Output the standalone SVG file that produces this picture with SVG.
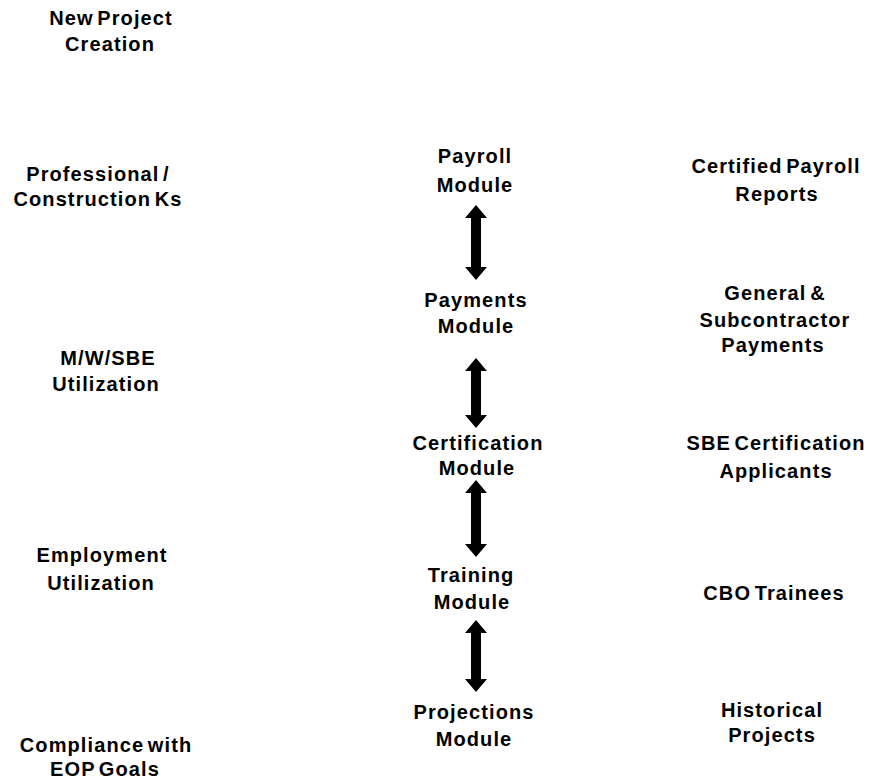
<svg xmlns="http://www.w3.org/2000/svg" width="870" height="782" viewBox="0 0 870 782">
<style>
text{font-family:"Liberation Sans",Arial,sans-serif;font-weight:bold;font-size:20px;fill:#000;text-anchor:middle;letter-spacing:1.1px;word-spacing:-3px}
.arr{fill:#000}
</style>
<rect width="870" height="782" fill="#fff"/>
<g id="left">
<g id="new-project"><text x="111" y="25">New Project</text><text x="110" y="51">Creation</text></g>
<g id="professional"><text x="98" y="181">Professional /</text><text x="98" y="206">Construction Ks</text></g>
<g id="mwsbe"><text x="108" y="365">M/W/SBE</text><text x="106" y="391">Utilization</text></g>
<g id="employment"><text x="102" y="562">Employment</text><text x="101" y="590">Utilization</text></g>
<g id="compliance"><text x="106" y="752">Compliance with</text><text x="105" y="776">EOP Goals</text></g>
</g>
<g id="middle">
<g id="payroll-module"><text x="475" y="163">Payroll</text><text x="475" y="192">Module</text></g>
<g id="payments-module"><text x="476" y="307">Payments</text><text x="476" y="333">Module</text></g>
<g id="certification-module"><text x="478" y="450">Certification</text><text x="477" y="475">Module</text></g>
<g id="training-module"><text x="471" y="582">Training</text><text x="472" y="609">Module</text></g>
<g id="projections-module"><text x="474" y="719">Projections</text><text x="474" y="746">Module</text></g>
</g>
<g id="right">
<g id="certified-payroll"><text x="776" y="173">Certified Payroll</text><text x="777" y="201">Reports</text></g>
<g id="gen-sub"><text x="775" y="300">General &amp;</text><text x="775" y="327">Subcontractor</text><text x="773" y="352">Payments</text></g>
<g id="sbe-cert"><text x="776" y="450">SBE Certification</text><text x="776" y="478">Applicants</text></g>
<g id="cbo"><text x="774" y="600">CBO Trainees</text></g>
<g id="historical"><text x="772" y="717">Historical</text><text x="772" y="742">Projects</text></g>
</g>
<g id="connectors">
<polygon class="arr" points="476,205 487,218 481,218 481,267 487,267 476,280 465,267 471,267 471,218 465,218"/>
<polygon class="arr" points="476,358 487,371 481,371 481,415 487,415 476,428 465,415 471,415 471,371 465,371"/>
<polygon class="arr" points="476,480 487,493 481,493 481,544 487,544 476,557 465,544 471,544 471,493 465,493"/>
<polygon class="arr" points="476,620 487,633 481,633 481,679 487,679 476,692 465,679 471,679 471,633 465,633"/>
</g>
</svg>
